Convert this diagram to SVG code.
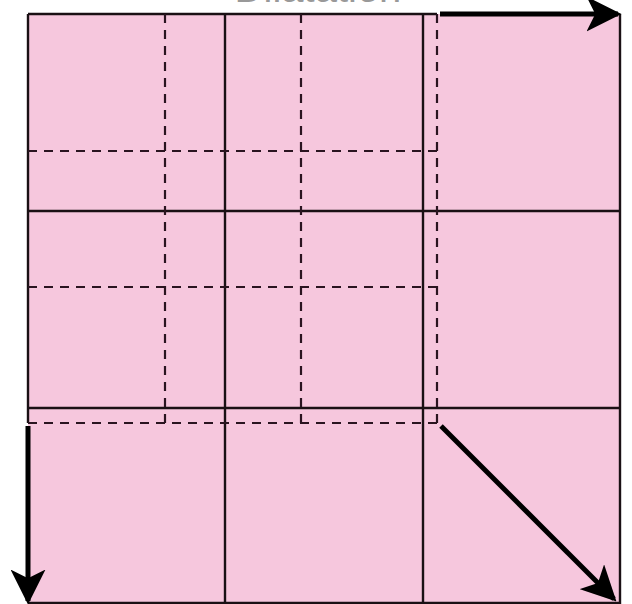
<svg xmlns="http://www.w3.org/2000/svg" width="632" height="604" viewBox="0 0 632 604">
<style>
.solid{stroke:#1a1014;stroke-width:2.4;fill:none}
.dash{stroke:#2a1420;stroke-width:2.2;fill:none;stroke-dasharray:9,7}
.arr{stroke:#000;stroke-width:5;fill:none}
.lbl{font-family:"Liberation Sans",Arial,sans-serif;font-size:40px;fill:#999}
</style>
<defs>
<marker id="ah" viewBox="0 0 10 10" refX="9" refY="5" markerWidth="7" markerHeight="7" markerUnits="strokeWidth" orient="auto">
<path d="M0,0 L10,5 L0,10 L2.5,5 Z" fill="#000"/>
</marker>
</defs>
<rect width="632" height="604" fill="#fff"/>
<text class="lbl" x="318" y="1.5" text-anchor="middle">Dilatation</text>
<g id="square">
<rect x="28" y="14" width="593" height="589" fill="#f6c7dd"/>
<path class="solid" d="M28,14 H437 M620,14 V603 H28 M28,14 V423"/>
<path class="solid" d="M225,14 V603 M423,14 V603 M28,211 H620 M28,408 H620"/>
</g>
<g id="dashed-grid">
<path class="dash" d="M165,14 V423 M301,14 V423 M437,14 V423 M28,151 H437 M28,287 H437 M28,423 H437"/>
</g>
<g id="connectors">
<line class="arr" x1="440" y1="14" x2="618" y2="14" marker-end="url(#ah)"/>
<line class="arr" x1="28" y1="426" x2="28" y2="601" marker-end="url(#ah)"/>
<line class="arr" x1="441" y1="426" x2="614" y2="599" marker-end="url(#ah)"/>
</g>
</svg>
